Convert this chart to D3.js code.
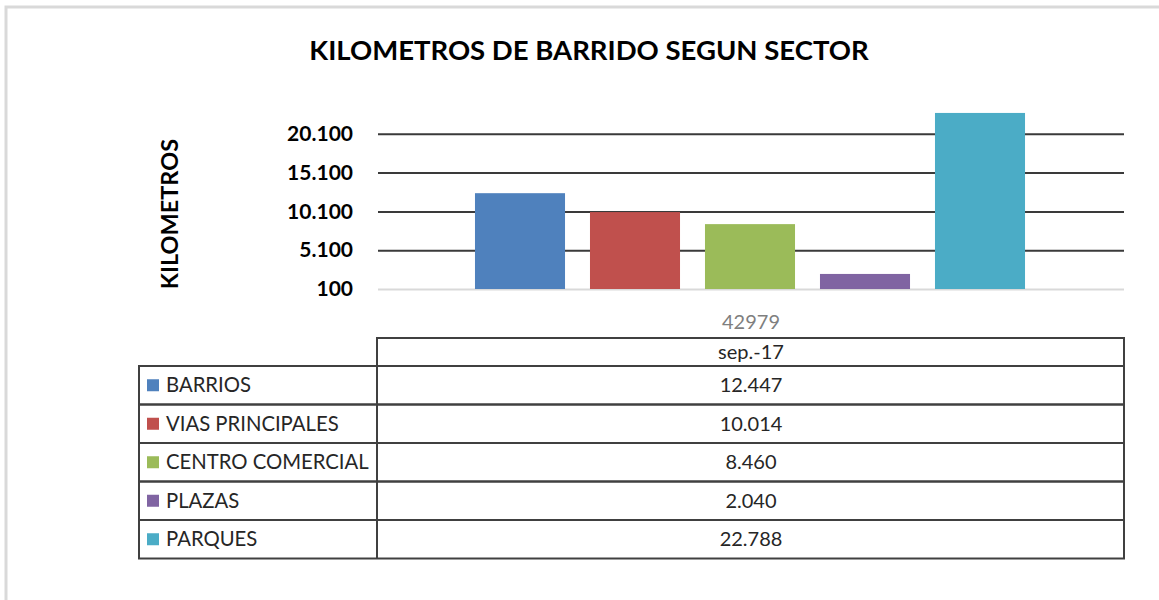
<!DOCTYPE html>
<html>
<head>
<meta charset="utf-8">
<script src="https://cdn.jsdelivr.net/npm/d3@7"></script>
<style>
  body { margin: 0; background: #fff; }
  text { font-family: Lato, "Open Sans", sans-serif; }
</style>
</head>
<body>
<div id="chart"></div>
<script>
// data
var categories = ["sep.-17"];
var categoryCode = ["42979"];
var series = ["BARRIOS", "VIAS PRINCIPALES", "CENTRO COMERCIAL", "PLAZAS", "PARQUES"];
var values = [12447, 10014, 8460, 2040, 22788];
var colors = ["#4f81bd", "#c0504d", "#9bbb59", "#8064a2", "#4bacc6"];
var yTicks = [100, 5100, 10100, 15100, 20100];

var W = 1159, H = 600;
var plot = {left: 378, right: 1124, top: 95, bottom: 289};
var table = {left: 139, mid: 377, right: 1124, top: 338, head: 28, row: 38.5};

var locale = d3.formatLocale({decimal: ",", thousands: ".", grouping: [3], currency: ["", ""]});
var fmt = locale.format(",d");

var svg = d3.select("#chart").append("svg")
    .attr("width", W)
    .attr("height", H);

// outer frame (only top and left visible)
svg.append("path")
    .attr("d", "M6,600 V7 H1159")
    .attr("fill", "none")
    .attr("stroke", "#d9d9d9")
    .attr("stroke-width", 3);

// title
svg.append("text")
    .attr("x", 589)
    .attr("y", 60)
    .attr("text-anchor", "middle")
    .style("font-size", "27.5px")
    .style("font-weight", "bold")
    .style("fill", "#000")
    .text("KILOMETROS DE BARRIDO SEGUN SECTOR");

var y = d3.scaleLinear()
    .domain([100, 25100])
    .range([plot.bottom, plot.top]);

var x0 = d3.scaleBand()
    .domain(categories)
    .range([plot.left, plot.right]);

var x1 = d3.scaleBand()
    .domain(series)
    .range([84.5, 659.5])
    .paddingInner(0.217)
    .paddingOuter(0.1085);

// y axis + gridlines
var yAxis = d3.axisLeft(y)
    .tickValues(yTicks)
    .tickSize(-(plot.right - plot.left))
    .tickPadding(25)
    .tickFormat(fmt);

var gy = svg.append("g")
    .attr("transform", "translate(" + plot.left + ",0)")
    .call(yAxis);
gy.select(".domain").remove();
gy.selectAll(".tick line")
    .attr("stroke", function(d) { return d === 100 ? "#d9d9d9" : "#3a3a3a"; })
    .attr("stroke-width", 2);
gy.selectAll(".tick text")
    .style("font-family", "Lato, sans-serif")
    .style("font-size", "21px")
    .style("font-weight", "bold")
    .style("fill", "#000");

// y axis title
svg.append("text")
    .attr("transform", "translate(178,214) rotate(-90)")
    .attr("text-anchor", "middle")
    .style("font-size", "23.5px")
    .style("font-weight", "bold")
    .style("fill", "#000")
    .text("KILOMETROS");

// bars
var groups = svg.selectAll(".grp")
    .data(categories)
  .enter().append("g")
    .attr("class", "grp")
    .attr("transform", function(d) { return "translate(" + x0(d) + ",0)"; });

groups.selectAll("rect")
    .data(series.map(function(s, i) { return {name: s, value: values[i], color: colors[i]}; }))
  .enter().append("rect")
    .attr("x", function(d) { return x1(d.name); })
    .attr("width", x1.bandwidth())
    .attr("y", function(d) { return y(d.value); })
    .attr("height", function(d) { return y(100) - y(d.value); })
    .attr("fill", function(d) { return d.color; });

// category code label
svg.selectAll(".catcode")
    .data(categoryCode)
  .enter().append("text")
    .attr("class", "catcode")
    .attr("x", function(d, i) { return x0(categories[i]) + x0.bandwidth() / 2; })
    .attr("y", 329)
    .attr("text-anchor", "middle")
    .style("font-size", "20px")
    .style("fill", "#7f7f7f")
    .text(function(d) { return d; });

// data table
var tb = svg.append("g").attr("class", "datatable");
var rowsTop = table.top + table.head;
var lineColor = "#404040";

// header cell
tb.append("rect")
    .attr("x", table.mid).attr("y", table.top)
    .attr("width", table.right - table.mid).attr("height", table.head)
    .attr("fill", "none").attr("stroke", lineColor).attr("stroke-width", 2);

tb.append("text")
    .attr("x", x0(categories[0]) + x0.bandwidth() / 2)
    .attr("y", table.top + table.head / 2)
    .attr("dy", "0.35em")
    .attr("text-anchor", "middle")
    .style("font-size", "20px")
    .style("fill", "#262626")
    .text(categories[0]);

var rows = tb.selectAll(".trow")
    .data(series)
  .enter().append("g")
    .attr("class", "trow")
    .attr("transform", function(d, i) { return "translate(0," + (rowsTop + i * table.row) + ")"; });

rows.append("rect")
    .attr("x", table.left)
    .attr("width", table.right - table.left)
    .attr("height", table.row)
    .attr("fill", "none").attr("stroke", lineColor).attr("stroke-width", 2);

rows.append("line")
    .attr("x1", table.mid).attr("x2", table.mid)
    .attr("y1", 0).attr("y2", table.row)
    .attr("stroke", lineColor).attr("stroke-width", 2);

rows.append("rect")
    .attr("x", 147)
    .attr("y", table.row / 2 - 6)
    .attr("width", 12).attr("height", 12)
    .attr("fill", function(d, i) { return colors[i]; });

rows.append("text")
    .attr("x", 166)
    .attr("y", table.row / 2)
    .attr("dy", "0.35em")
    .style("font-size", "20.3px")
    .style("fill", "#262626")
    .text(function(d) { return d; });

rows.append("text")
    .attr("x", x0(categories[0]) + x0.bandwidth() / 2)
    .attr("y", table.row / 2)
    .attr("dy", "0.35em")
    .attr("text-anchor", "middle")
    .style("font-size", "20px")
    .style("fill", "#262626")
    .text(function(d, i) { return fmt(values[i]); });
</script>
</body>
</html>
